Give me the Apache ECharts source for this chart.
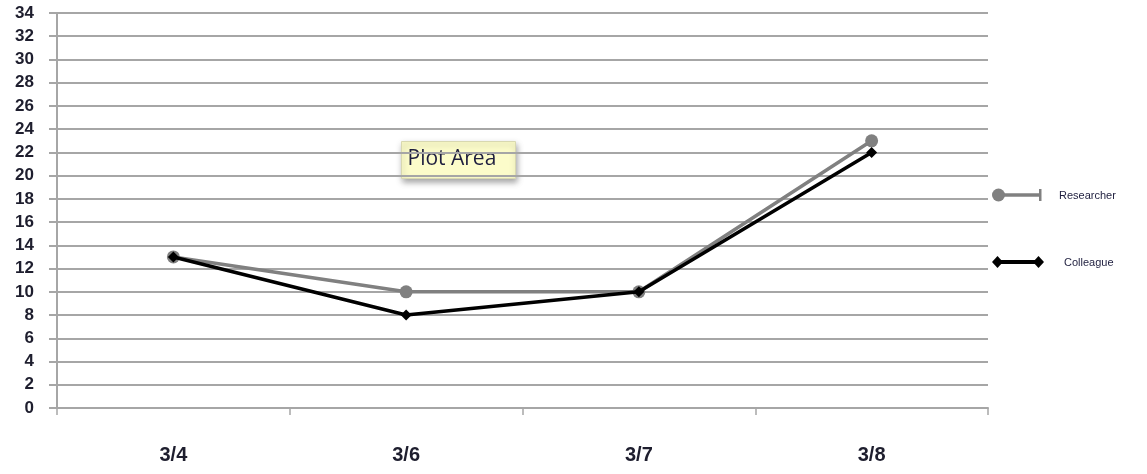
<!DOCTYPE html>
<html>
<head>
<meta charset="utf-8">
<script src="https://cdn.jsdelivr.net/npm/echarts@6/dist/echarts.min.js"></script>
<style>html,body{margin:0;padding:0;background:#fff;}#c{width:1147px;height:474px;}</style>
</head>
<body>
<div id="c"></div>
<script>
var categories = ['3/4', '3/6', '3/7', '3/8'];
var researcher = [13, 10, 10, 23];
var colleague = [13, 8, 10, 22];
var yMin = 0, yMax = 34, yStep = 2;

var chart = echarts.init(document.getElementById('c'), null, {renderer: 'canvas'});
var font = '"Liberation Sans", "Open Sans", sans-serif';
chart.setOption({
  backgroundColor: '#ffffff',
  animation: false,
  grid: {left: 57, right: 159, top: 13, bottom: 66, containLabel: false},
  xAxis: {
    type: 'category',
    data: categories,
    boundaryGap: true,
    axisLine: {show: true, lineStyle: {color: '#a6a6a6', width: 2}},
    axisTick: {show: true, length: 7, inside: false, lineStyle: {color: '#a6a6a6', width: 1.5}},
    axisLabel: {margin: 37, color: '#1e1e2e', fontSize: 20, fontFamily: font, fontWeight: 'bold'},
    splitLine: {show: false}
  },
  yAxis: {
    type: 'value',
    min: yMin, max: yMax, interval: yStep,
    axisLine: {show: true, lineStyle: {color: '#a6a6a6', width: 2}},
    axisTick: {show: true, length: 8, lineStyle: {color: '#a6a6a6', width: 2}},
    axisLabel: {margin: 23, color: '#1e1e2e', fontSize: 17, fontFamily: font, fontWeight: 'bold'},
    splitLine: {show: true, lineStyle: {color: '#a6a6a6', width: 2}}
  },
  legend: [
    {
      data: ['Researcher'], left: 992, top: 185, orient: 'vertical',
      itemWidth: 50, itemHeight: 14,
      itemStyle: {opacity: 0}, lineStyle: {opacity: 0},
      textStyle: {fontSize: 11, color: '#1e1e3e', fontFamily: font, padding: [0, 0, 0, 6]}
    },
    {
      data: ['Colleague'], left: 992, top: 252, orient: 'vertical',
      itemWidth: 50, itemHeight: 14,
      itemStyle: {opacity: 0}, lineStyle: {opacity: 0},
      textStyle: {fontSize: 11, color: '#1e1e3e', fontFamily: font, padding: [0, 0, 0, 11]}
    }
  ],
  series: [
    {
      name: 'Researcher', type: 'line', data: researcher,
      symbol: 'circle', symbolSize: 13,
      lineStyle: {color: '#808080', width: 3.5},
      itemStyle: {color: '#808080'},
      z: 2
    },
    {
      name: 'Colleague', type: 'line', data: colleague,
      symbol: 'diamond', symbolSize: 11,
      lineStyle: {color: '#000000', width: 3.5},
      itemStyle: {color: '#000000'},
      z: 3
    }
  ],
  graphic: [
    {
      type: 'group', left: 401, top: 141, z: 100,
      children: [
        {type: 'rect', shape: {x: 0, y: 0, width: 114, height: 37},
         style: {fill: '#fcfcca', stroke: '#d8d8b0', lineWidth: 1,
                 shadowBlur: 6, shadowOffsetX: 1, shadowOffsetY: 3, shadowColor: 'rgba(0,0,0,0.35)'}},
        {type: 'text', x: 6, y: 18,
         style: {text: 'Plot Area', font: '21px "Open Sans", "Liberation Sans", sans-serif', fill: '#1e1e3e', verticalAlign: 'middle'}}
      ]
    },
    {
      type: 'group', x: 992, y: 195, z: 100,
      children: [
        {type: 'line', shape: {x1: 6, y1: 0, x2: 48, y2: 0}, style: {stroke: '#808080', lineWidth: 3.5}},
        {type: 'rect', shape: {x: 47, y: -6, width: 2.5, height: 12}, style: {fill: '#808080'}},
        {type: 'circle', shape: {cx: 6.5, cy: 0, r: 6.5}, style: {fill: '#808080'}}
      ]
    },
    {
      type: 'group', x: 992, y: 262, z: 100,
      children: [
        {type: 'line', shape: {x1: 5, y1: 0, x2: 47, y2: 0}, style: {stroke: '#000000', lineWidth: 4}},
        {type: 'polygon', shape: {points: [[0, 0], [5.5, -6], [11, 0], [5.5, 6]]}, style: {fill: '#000000'}},
        {type: 'polygon', shape: {points: [[41, 0], [46.5, -6], [52, 0], [46.5, 6]]}, style: {fill: '#000000'}}
      ]
    }
  ]
});
</script>
</body>
</html>
